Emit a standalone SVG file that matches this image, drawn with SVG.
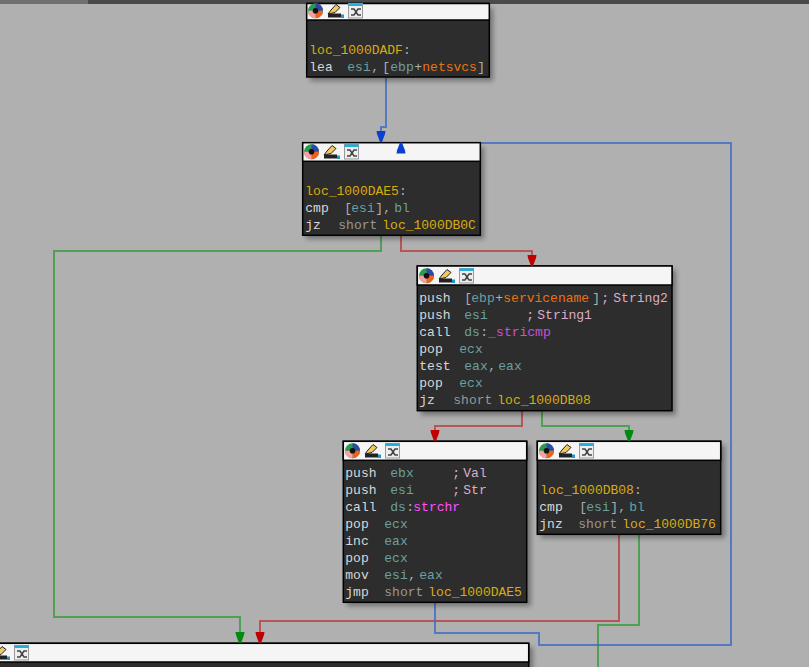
<svg xmlns="http://www.w3.org/2000/svg" width="809" height="667" viewBox="0 0 809 667">
<style>
.body{fill:#2d2d2d;stroke:#000;stroke-width:1.5}
.hdr{fill:#f5f5f5;stroke:#000;stroke-width:1.5}
text{font-family:"Liberation Mono","DejaVu Sans Mono",monospace;font-size:13px;white-space:pre;transform:translate(-.7px,0)}
.m{fill:#d8d8d8}.r{fill:#6aa0a0}.l{fill:#d8ac10}.s{fill:#979797}.p{fill:#a8b0b0}
.o{fill:#e87410}.c{fill:#dcacc8}.f{fill:#cc50d0}.f2{fill:#ff50ff}
.e{fill:none;stroke-width:2;stroke-opacity:.8}
.b{stroke:#3f6cc4}.rd{stroke:#b84040}.g{stroke:#3a9a40}
</style>
<defs>
<filter id="sh" x="-10%" y="-10%" width="125%" height="125%"><feGaussianBlur stdDeviation="2.500"/></filter>
<path id="head" d="M-4.500 -11H4.500L4 -8 1 0H-1L-4 -8Z"/>
<symbol id="icons" width="48" height="16" viewBox="0 0 48 16" overflow="visible">
<circle cx="7.500" cy="7.800" r="7.500" fill="#2a9a50"/>
<path d="M7.500 7.800V.3A7.500 7.500 0 0 1 15 7.800Z" fill="#2f48a8"/>
<path d="M7.500 7.800H15A7.500 7.500 0 0 1 7.500 15.300Z" fill="#f0601f"/>
<path d="M7.500 7.800V15.300A7.500 7.500 0 0 1 0 7.800Z" fill="#f8a0a0"/>
<circle cx="7.500" cy="7.800" r="2.800" fill="#111"/>
<path d="M20 11L23 7 28 1.500 32 4.500 27 9.500Z" fill="#f0c860" stroke="#222"/>
<path d="M20 10.500H33V14.500H20Z" fill="#222"/>
<path d="M33 11.500H36V15H33Z" fill="#1a9ac8"/>
<rect x="40.500" y=".5" width="14" height="14.500" fill="#eee" stroke="#999"/>
<rect x="40.500" y=".5" width="14" height="2.500" fill="#20b0e0"/>
<path d="M43 6H46L50 12H53M43 12H46L50 6H53" fill="none" stroke="#444" stroke-width="1.500"/>
</symbol>
</defs>
<rect width="809" height="667" fill="#b0b0b0"/>
<rect width="809" height="4" fill="#4a4a4a"/>
<rect width="88" height="4" fill="#707070"/>

<g id="connectors">
<path class="e b" d="M386 77V127H381V141"/>
<path class="e g" d="M381 235V251H54V617H240V641"/>
<path class="e rd" d="M401 235V251H532V264"/>
<path class="e rd" d="M522 410V426H435V439"/>
<path class="e g" d="M542 410V426H629V439"/>
<path class="e rd" d="M619 534V621H260V641"/>
<path class="e g" d="M639 534V625H598V667"/>
<path class="e b" d="M435 602V633H539V645H731V143H403"/>
</g>

<g id="node-1000DADF">
<rect x="310" y="8" width="183" height="73" fill="#000" opacity=".35" filter="url(#sh)"/>
<rect class="body" x="306.700" y="3.500" width="182.600" height="73.500"/>
<rect class="hdr" x="306.700" y="3.500" width="182.600" height="16.500"/>
<use href="#icons" x="308" y="3"/>
<text y="54" class="l" x="310">loc_1000DADF<tspan class="p">:</tspan></text>
<text y="71"><tspan class="m" x="310">lea</tspan><tspan class="r" x="348">esi</tspan><tspan class="p" x="372">,</tspan><tspan class="p" x="383">[</tspan><tspan class="r" x="391">ebp</tspan><tspan class="p" x="415">+</tspan><tspan class="o" x="423">netsvcs</tspan><tspan class="p" x="478">]</tspan></text>
</g>

<g id="node-1000DAE5">
<rect x="306" y="147" width="178" height="92" fill="#000" opacity=".35" filter="url(#sh)"/>
<rect class="body" x="302.700" y="142.700" width="177.600" height="92.600"/>
<rect class="hdr" x="302.700" y="142.700" width="177.600" height="18.600"/>
<use href="#icons" x="304" y="144"/>
<text y="195" class="l" x="306">loc_1000DAE5<tspan class="p">:</tspan></text>
<text y="212"><tspan class="m" x="306">cmp</tspan><tspan class="p" x="345">[</tspan><tspan class="r" x="352">esi</tspan><tspan class="p" x="376">]</tspan><tspan class="p" x="384">,</tspan><tspan class="r" x="395">bl</tspan></text>
<text y="229"><tspan class="m" x="306">jz</tspan><tspan class="s" x="339">short</tspan><tspan class="l" x="383">loc_1000DB0C</tspan></text>
</g>

<g id="node-servicename">
<rect x="421" y="270" width="255" height="145" fill="#000" opacity=".35" filter="url(#sh)"/>
<rect class="body" x="417.300" y="266" width="254.700" height="144.700"/>
<rect class="hdr" x="417.300" y="266" width="254.700" height="19"/>
<use href="#icons" x="419" y="268"/>
<text y="302"><tspan class="m" x="420">push</tspan><tspan class="p" x="465">[</tspan><tspan class="r" x="472">ebp</tspan><tspan class="p" x="496">+</tspan><tspan class="o" x="504">servicename</tspan><tspan class="p" x="593">]</tspan><tspan class="c" x="602">;</tspan><tspan class="c" x="614">String2</tspan></text>
<text y="319"><tspan class="m" x="420">push</tspan><tspan class="r" x="465">esi</tspan><tspan class="c" x="527">;</tspan><tspan class="c" x="538">String1</tspan></text>
<text y="336"><tspan class="m" x="420">call</tspan><tspan class="r" x="465">ds</tspan><tspan class="p" x="481">:</tspan><tspan class="f" x="489">_stricmp</tspan></text>
<text y="353"><tspan class="m" x="420">pop</tspan><tspan class="r" x="460">ecx</tspan></text>
<text y="370"><tspan class="m" x="420">test</tspan><tspan class="r" x="465">eax</tspan><tspan class="p" x="489">,</tspan><tspan class="r" x="499">eax</tspan></text>
<text y="387"><tspan class="m" x="420">pop</tspan><tspan class="r" x="460">ecx</tspan></text>
<text y="404"><tspan class="m" x="420">jz</tspan><tspan class="s" x="454">short</tspan><tspan class="l" x="498">loc_1000DB08</tspan></text>
</g>

<g id="node-strchr">
<rect x="347" y="445" width="184" height="161" fill="#000" opacity=".35" filter="url(#sh)"/>
<rect class="body" x="343.300" y="441.300" width="183.400" height="161"/>
<rect class="hdr" x="343.300" y="441.300" width="183.400" height="19"/>
<use href="#icons" x="345" y="443"/>
<text y="477"><tspan class="m" x="346">push</tspan><tspan class="r" x="391">ebx</tspan><tspan class="c" x="453">;</tspan><tspan class="c" x="464">Val</tspan></text>
<text y="494"><tspan class="m" x="346">push</tspan><tspan class="r" x="391">esi</tspan><tspan class="c" x="453">;</tspan><tspan class="c" x="464">Str</tspan></text>
<text y="511"><tspan class="m" x="346">call</tspan><tspan class="r" x="391">ds</tspan><tspan class="p" x="407">:</tspan><tspan class="f2" x="414">strchr</tspan></text>
<text y="528"><tspan class="m" x="346">pop</tspan><tspan class="r" x="385">ecx</tspan></text>
<text y="545"><tspan class="m" x="346">inc</tspan><tspan class="r" x="385">eax</tspan></text>
<text y="562"><tspan class="m" x="346">pop</tspan><tspan class="r" x="385">ecx</tspan></text>
<text y="579"><tspan class="m" x="346">mov</tspan><tspan class="r" x="385">esi</tspan><tspan class="p" x="409">,</tspan><tspan class="r" x="420">eax</tspan></text>
<text y="596"><tspan class="m" x="346">jmp</tspan><tspan class="s" x="385">short</tspan><tspan class="l" x="429">loc_1000DAE5</tspan></text>
</g>

<g id="node-1000DB08">
<rect x="541" y="445" width="184" height="93" fill="#000" opacity=".35" filter="url(#sh)"/>
<rect class="body" x="537.300" y="441.300" width="183.400" height="93"/>
<rect class="hdr" x="537.300" y="441.300" width="183.400" height="19"/>
<use href="#icons" x="539" y="443"/>
<text y="494" class="l" x="541">loc_1000DB08<tspan class="p">:</tspan></text>
<text y="511"><tspan class="m" x="540">cmp</tspan><tspan class="p" x="580">[</tspan><tspan class="r" x="587">esi</tspan><tspan class="p" x="611">]</tspan><tspan class="p" x="619">,</tspan><tspan class="r" x="630">bl</tspan></text>
<text y="528"><tspan class="m" x="540">jnz</tspan><tspan class="s" x="579">short</tspan><tspan class="l" x="623">loc_1000DB76</tspan></text>
</g>

<g id="node-bottom">
<rect x="-5" y="647" width="538" height="30" fill="#000" opacity=".35" filter="url(#sh)"/>
<rect class="body" x="-5" y="643.300" width="533.700" height="30"/>
<rect class="hdr" x="-5" y="643.300" width="533.700" height="18.700"/>
<use href="#icons" x="-26" y="645"/>
</g>

<g id="arrowheads">
<use href="#head" x="381" y="142" fill="#0b3fd0"/>
<use href="#head" transform="translate(401 142.500) rotate(180)" fill="#0b3fd0"/>
<use href="#head" x="532" y="266" fill="#c00000"/>
<use href="#head" x="435" y="441" fill="#c00000"/>
<use href="#head" x="629" y="441" fill="#008a10"/>
<use href="#head" x="240" y="643" fill="#008a10"/>
<use href="#head" x="260" y="643" fill="#c00000"/>
</g>
</svg>
